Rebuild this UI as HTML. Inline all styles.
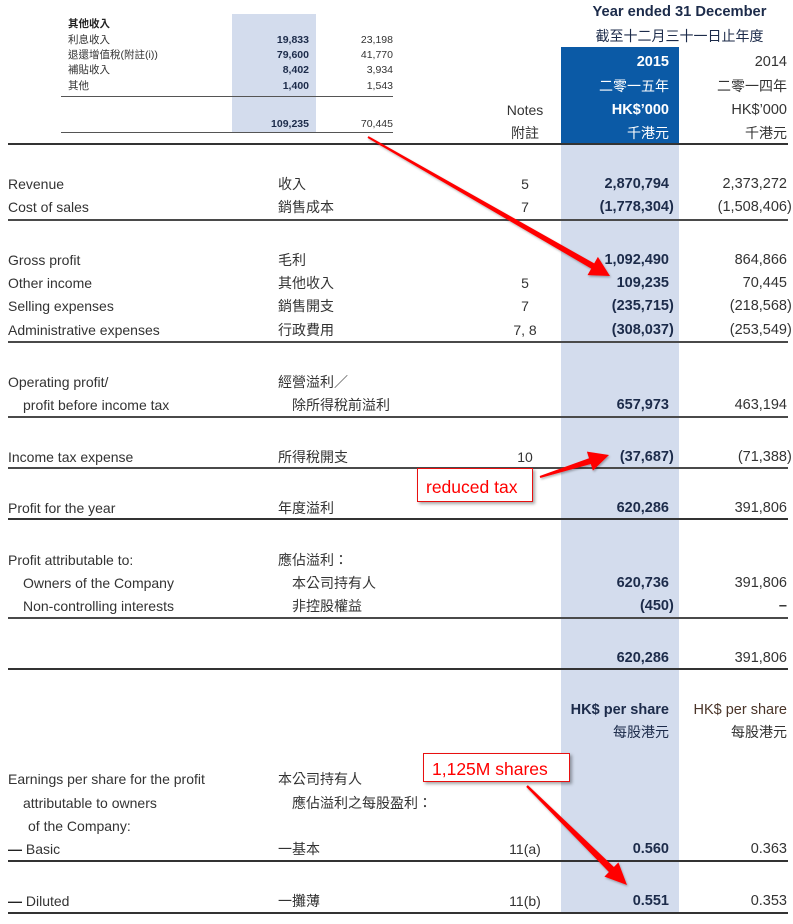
<!DOCTYPE html>
<html><head><meta charset="utf-8">
<style>
html,body{margin:0;padding:0;background:#fff;}
body{width:793px;height:924px;position:relative;overflow:hidden;font-family:"Liberation Sans","Noto Sans CJK TC",sans-serif;color:#333;}
.t{position:absolute;line-height:16px;font-size:14px;white-space:nowrap;}
.s{position:absolute;line-height:12px;font-size:10.5px;white-space:nowrap;}
.r15{right:124px;font-size:14.5px;font-weight:bold;color:#1c2b4a;}
.r14{right:6px;font-size:14.5px;color:#333;}
.nt{left:485px;width:80px;text-align:center;}
.cp{position:absolute;left:100%;top:0;}
.ln{position:absolute;left:8px;width:780px;height:2px;background:#4a4a4a;}
.en{left:8px;}
.zh{left:278px;}
.ei{left:23px;}
.zi{left:292px;}
.box{position:absolute;background:#fff;border:1.5px solid #e81010;box-shadow:2px 2px 3px rgba(0,0,0,.35);color:#f00;font-size:17.5px;line-height:20px;white-space:nowrap;}
</style></head><body>

<!-- top mini table -->
<div style="position:absolute;left:232px;top:14px;width:84px;height:118px;background:#d3dced;"></div>
<div class="s" style="left:68px;top:18px;font-weight:bold;color:#222;">其他收入</div>
<div class="s" style="left:68px;top:34px;">利息收入</div>
<div class="s" style="right:484px;top:34px;font-weight:bold;color:#1c2b4a;">19,833</div>
<div class="s" style="right:400px;top:34px;">23,198</div>
<div class="s" style="left:68px;top:49px;">退還增值稅(附註(i))</div>
<div class="s" style="right:484px;top:49px;font-weight:bold;color:#1c2b4a;">79,600</div>
<div class="s" style="right:400px;top:49px;">41,770</div>
<div class="s" style="left:68px;top:64px;">補貼收入</div>
<div class="s" style="right:484px;top:64px;font-weight:bold;color:#1c2b4a;">8,402</div>
<div class="s" style="right:400px;top:64px;">3,934</div>
<div class="s" style="left:68px;top:80px;">其他</div>
<div class="s" style="right:484px;top:80px;font-weight:bold;color:#1c2b4a;">1,400</div>
<div class="s" style="right:400px;top:80px;">1,543</div>
<div style="position:absolute;left:61px;top:96px;width:332px;height:1px;background:#555;"></div>
<div class="s" style="right:484px;top:118px;font-weight:bold;color:#1c2b4a;">109,235</div>
<div class="s" style="right:400px;top:118px;">70,445</div>
<div style="position:absolute;left:61px;top:132px;width:332px;height:1px;background:#555;"></div>

<!-- column backgrounds -->
<div style="position:absolute;left:561px;top:47px;width:118px;height:97px;background:#0b5aa6;"></div>
<div style="position:absolute;left:561px;top:144px;width:118px;height:770px;background:#d3dced;"></div>

<!-- header -->
<div class="t" style="left:559px;width:241px;text-align:center;top:4px;font-size:14.7px;font-weight:bold;color:#1c2b4a;">Year ended 31 December</div>
<div class="t" style="left:559px;width:241px;text-align:center;top:28px;color:#1c2b4a;">截至十二月三十一日止年度</div>
<div class="t r15" style="top:54px;color:#fff;">2015</div>
<div class="t r15" style="top:78px;color:#fff;font-weight:normal;font-size:14px;">二零一五年</div>
<div class="t r15" style="top:102px;color:#fff;">HK$’000</div>
<div class="t r15" style="top:125px;color:#fff;font-weight:normal;font-size:14px;">千港元</div>
<div class="t r14" style="top:54px;">2014</div>
<div class="t r14" style="top:78px;font-size:14px;">二零一四年</div>
<div class="t r14" style="top:102px;">HK$’000</div>
<div class="t r14" style="top:125px;font-size:14px;">千港元</div>
<div class="t nt" style="top:102px;">Notes</div>
<div class="t nt" style="top:125px;">附註</div>
<div class="ln" style="top:143px;background:#333;"></div>

<!-- Revenue block -->
<div class="t en" style="top:176px;">Revenue</div><div class="t zh" style="top:176px;">收入</div><div class="t nt" style="top:176px;">5</div>
<div class="t r15" style="top:176px;">2,870,794</div><div class="t r14" style="top:176px;">2,373,272</div>
<div class="t en" style="top:199px;">Cost of sales</div><div class="t zh" style="top:199px;">銷售成本</div><div class="t nt" style="top:199px;">7</div>
<div class="t r15" style="top:199px;">(1,778,304<span class="cp">)</span></div><div class="t r14" style="top:199px;">(1,508,406<span class="cp">)</span></div>
<div class="ln" style="top:219px;"></div>

<div class="t en" style="top:252px;">Gross profit</div><div class="t zh" style="top:252px;">毛利</div>
<div class="t r15" style="top:252px;">1,092,490</div><div class="t r14" style="top:252px;">864,866</div>
<div class="t en" style="top:275px;">Other income</div><div class="t zh" style="top:275px;">其他收入</div><div class="t nt" style="top:275px;">5</div>
<div class="t r15" style="top:275px;">109,235</div><div class="t r14" style="top:275px;">70,445</div>
<div class="t en" style="top:298px;">Selling expenses</div><div class="t zh" style="top:298px;">銷售開支</div><div class="t nt" style="top:298px;">7</div>
<div class="t r15" style="top:298px;">(235,715<span class="cp">)</span></div><div class="t r14" style="top:298px;">(218,568<span class="cp">)</span></div>
<div class="t en" style="top:322px;">Administrative expenses</div><div class="t zh" style="top:322px;">行政費用</div><div class="t nt" style="top:322px;">7, 8</div>
<div class="t r15" style="top:322px;">(308,037<span class="cp">)</span></div><div class="t r14" style="top:322px;">(253,549<span class="cp">)</span></div>
<div class="ln" style="top:341px;"></div>

<div class="t en" style="top:374px;">Operating profit/</div><div class="t zh" style="top:374px;">經營溢利／</div>
<div class="t ei" style="top:397px;">profit before income tax</div><div class="t zi" style="top:397px;">除所得稅前溢利</div>
<div class="t r15" style="top:397px;">657,973</div><div class="t r14" style="top:397px;">463,194</div>
<div class="ln" style="top:416px;"></div>

<div class="t en" style="top:449px;">Income tax expense</div><div class="t zh" style="top:449px;">所得稅開支</div><div class="t nt" style="top:449px;">10</div>
<div class="t r15" style="top:449px;">(37,687<span class="cp">)</span></div><div class="t r14" style="top:449px;">(71,388<span class="cp">)</span></div>
<div class="ln" style="top:467px;"></div>

<div class="t en" style="top:500px;">Profit for the year</div><div class="t zh" style="top:500px;">年度溢利</div>
<div class="t r15" style="top:500px;">620,286</div><div class="t r14" style="top:500px;">391,806</div>
<div class="ln" style="top:518px;background:#333;"></div>

<div class="t en" style="top:552px;">Profit attributable to:</div><div class="t zh" style="top:552px;">應佔溢利：</div>
<div class="t ei" style="top:575px;">Owners of the Company</div><div class="t zi" style="top:575px;">本公司持有人</div>
<div class="t r15" style="top:575px;">620,736</div><div class="t r14" style="top:575px;">391,806</div>
<div class="t ei" style="top:598px;">Non-controlling interests</div><div class="t zi" style="top:598px;">非控股權益</div>
<div class="t r15" style="top:598px;">(450<span class="cp">)</span></div><div class="t r14" style="top:598px;font-weight:bold;">–</div>
<div class="ln" style="top:617px;"></div>

<div class="t r15" style="top:650px;">620,286</div><div class="t r14" style="top:650px;">391,806</div>
<div class="ln" style="top:668px;background:#333;"></div>

<div class="t r15" style="top:702px;">HK$ per share</div><div class="t r14" style="top:702px;color:#4a3428;">HK$ per share</div>
<div class="t r15" style="top:724px;font-size:14px;font-weight:normal;">每股港元</div><div class="t r14" style="top:724px;font-size:14px;">每股港元</div>

<div class="t en" style="top:771px;">Earnings per share for the profit</div><div class="t zh" style="top:771px;">本公司持有人</div>
<div class="t ei" style="top:795px;">attributable to owners</div><div class="t zi" style="top:795px;">應佔溢利之每股盈利：</div>
<div class="t" style="left:28px;top:818px;">of the Company:</div>
<div class="t en" style="top:841px;"><b style="color:#222;">—</b> Basic</div><div class="t zh" style="top:841px;">一基本</div><div class="t nt" style="top:841px;">11(a)</div>
<div class="t r15" style="top:841px;">0.560</div><div class="t r14" style="top:841px;">0.363</div>
<div class="ln" style="top:860px;background:#333;"></div>
<div class="t en" style="top:893px;"><b style="color:#222;">—</b> Diluted</div><div class="t zh" style="top:893px;">一攤薄</div><div class="t nt" style="top:893px;">11(b)</div>
<div class="t r15" style="top:893px;">0.551</div><div class="t r14" style="top:893px;">0.353</div>
<div class="ln" style="top:912px;background:#333;"></div>

<!-- annotation boxes -->
<div class="box" style="left:417px;top:468px;width:114px;height:32px;"><div style="position:absolute;left:8px;top:8px;">reduced tax</div></div>
<div class="box" style="left:423px;top:753px;width:145px;height:27px;"><div style="position:absolute;left:8px;top:5px;">1,125M shares</div></div>

<!-- arrows -->
<svg style="position:absolute;left:0;top:0;" width="793" height="924" viewBox="0 0 793 924">
<defs><filter id="sh" x="-10%" y="-10%" width="120%" height="120%"><feDropShadow dx="1" dy="1.5" stdDeviation="1" flood-color="#000" flood-opacity="0.3"/></filter></defs>
<g fill="#f00" filter="url(#sh)">
<polygon points="368.5,136.1 594.2,263.4 597.9,256.9 610,276 587.5,275.1 591.2,268.6 367.5,137.9"/>
<polygon points="539.7,476.0 589.0,458.2 586.9,451.6 609,455 592.9,470.6 590.8,464.0 540.3,478.0"/>
<polygon points="527.8,785.1 613.9,867.0 618.4,862.4 627,885 604.4,876.6 608.9,872.0 526.2,786.9"/>
</g>
</svg>
</body></html>
